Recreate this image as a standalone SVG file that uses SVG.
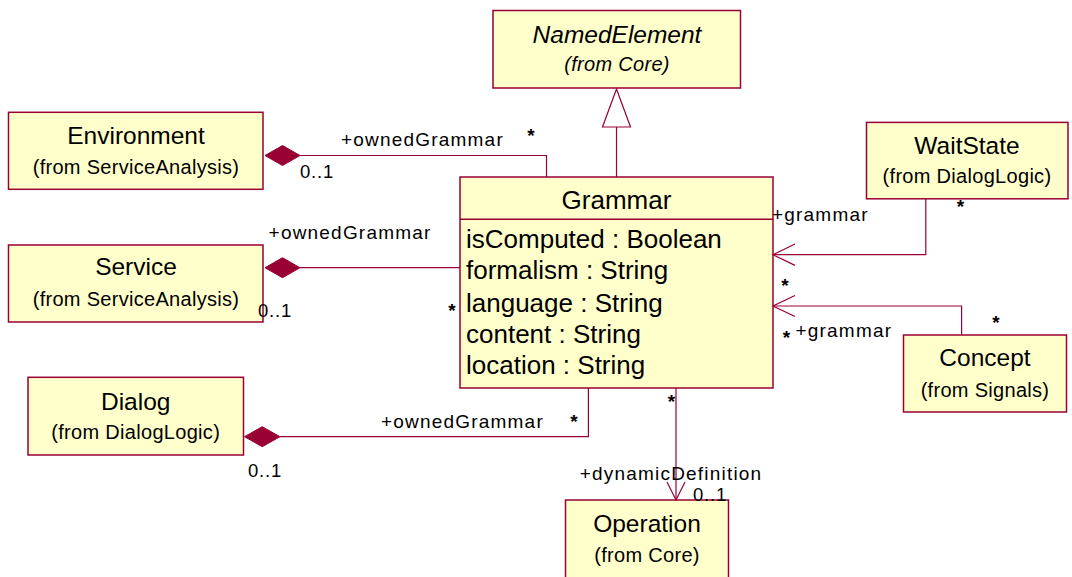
<svg xmlns="http://www.w3.org/2000/svg" width="1072" height="577" viewBox="0 0 1072 577">
  <style>
    .box { fill: #FFFFCC; stroke: #990033; stroke-width: 1.5; }
    .line { fill: none; stroke: #990033; stroke-width: 1.2; }
    .diamond { fill: #990033; stroke: #990033; stroke-width: 1; }
    .hollow { fill: #FFFFFF; stroke: #990033; stroke-width: 1.2; }
    text { font-family: "Liberation Sans", Arial, sans-serif; fill: #000000; }
    .name { font-size: 24.5px; text-anchor: middle; }
    .sub { font-size: 20px; text-anchor: middle; letter-spacing: 0.3px; }
    .attr { font-size: 26px; }
    .role { font-size: 19px; letter-spacing: 1.2px; }
    .mult { font-size: 18.5px; letter-spacing: 0.8px; }
    .star { font-size: 19px; font-weight: bold; text-anchor: middle; }
    .it { font-style: italic; }
  </style>

  <g id="NamedElement">
    <rect class="box" x="493" y="10.5" width="247.5" height="77.5"/>
    <text class="name it" x="617" y="42.5">NamedElement</text>
    <text class="sub it" x="617" y="71">(from Core)</text>
  </g>

  <g id="Environment">
    <rect class="box" x="8.5" y="112.3" width="254.5" height="77"/>
    <text class="name" x="136" y="143.5">Environment</text>
    <text class="sub" x="136" y="173.5">(from ServiceAnalysis)</text>
  </g>

  <g id="Service">
    <rect class="box" x="8.5" y="245" width="254.5" height="77"/>
    <text class="name" x="136" y="275">Service</text>
    <text class="sub" x="136" y="306">(from ServiceAnalysis)</text>
  </g>

  <g id="Dialog">
    <rect class="box" x="28" y="377.3" width="215.5" height="77.7"/>
    <text class="name" x="135.7" y="410">Dialog</text>
    <text class="sub" x="135.7" y="438.5">(from DialogLogic)</text>
  </g>

  <g id="Grammar">
    <rect class="box" x="460" y="177" width="313" height="211"/>
    <line class="line" x1="460" y1="219.3" x2="773" y2="219.3" style="stroke-width:1.5"/>
    <text class="name" x="616.5" y="208.5" style="font-size:26px">Grammar</text>
    <text class="attr" x="466" y="247.5">isComputed : Boolean</text>
    <text class="attr" x="466" y="279">formalism : String</text>
    <text class="attr" x="466" y="311.5">language : String</text>
    <text class="attr" x="466" y="343">content : String</text>
    <text class="attr" x="466" y="373.5">location : String</text>
  </g>

  <g id="WaitState">
    <rect class="box" x="866.5" y="122.4" width="201.5" height="76.4"/>
    <text class="name" x="967" y="154">WaitState</text>
    <text class="sub" x="967" y="183">(from DialogLogic)</text>
  </g>

  <g id="Concept">
    <rect class="box" x="903.5" y="335" width="163" height="77"/>
    <text class="name" x="985" y="366">Concept</text>
    <text class="sub" x="985" y="396.5">(from Signals)</text>
  </g>

  <g id="Operation">
    <rect class="box" x="565.5" y="500" width="163" height="90"/>
    <text class="name" x="647" y="531.5">Operation</text>
    <text class="sub" x="647" y="562">(from Core)</text>
  </g>

  <!-- associations and generalization -->
  <g id="connectors">
    <!-- Environment owns Grammar -->
    <polyline class="line" points="300,155.5 546.5,155.5 546.5,177"/>
    <polygon class="diamond" points="265,155.5 282.5,145.5 300,155.5 282.5,165.5"/>
    <text class="role" x="341" y="145.8">+ownedGrammar</text>
    <text class="star" x="531" y="141.7">*</text>
    <text class="mult" x="300" y="177.5">0..1</text>

    <!-- Service owns Grammar -->
    <polyline class="line" points="300,267.7 460,267.7"/>
    <polygon class="diamond" points="265,267.7 282.5,257.7 300,267.7 282.5,277.7"/>
    <text class="role" x="268.6" y="238.5">+ownedGrammar</text>
    <text class="star" x="452" y="317">*</text>
    <text class="mult" x="258" y="316.5">0..1</text>

    <!-- Dialog owns Grammar -->
    <polyline class="line" points="280,436.7 588.4,436.7 588.4,388"/>
    <polygon class="diamond" points="244.5,436.7 262.2,426.7 280,436.7 262.2,446.7"/>
    <text class="role" x="381" y="427.5">+ownedGrammar</text>
    <text class="star" x="574" y="428">*</text>
    <text class="mult" x="248" y="476.5">0..1</text>

    <!-- Grammar specializes NamedElement -->
    <line class="line" x1="616.5" y1="177" x2="616.5" y2="127"/>
    <polygon class="hollow" points="616.5,89 602.5,127 630.5,127"/>

    <!-- WaitState to Grammar -->
    <polyline class="line" points="925.8,199 925.8,254.7 773,254.7"/>
    <polyline class="line" points="795,244 773,254.7 795,265.4"/>
    <text class="role" x="772" y="221">+grammar</text>
    <text class="star" x="960.5" y="213">*</text>

    <!-- Concept to Grammar -->
    <polyline class="line" points="961.6,335 961.6,306 773,306"/>
    <polyline class="line" points="795,295.5 773,306 795,316.5"/>
    <text class="star" x="785" y="292">*</text>
    <text class="star" x="786.5" y="344">*</text>
    <text class="role" x="795.5" y="337.3">+grammar</text>
    <text class="star" x="996" y="328.5">*</text>

    <!-- Grammar to Operation -->
    <line class="line" x1="676" y1="388" x2="676" y2="500"/>
    <polyline class="line" points="667,482 676,500 685,482"/>
    <text class="star" x="671.4" y="408">*</text>
    <text class="role" x="579.7" y="479.5">+dynamicDefinition</text>
    <text class="mult" x="693" y="501">0..1</text>
  </g>
</svg>
